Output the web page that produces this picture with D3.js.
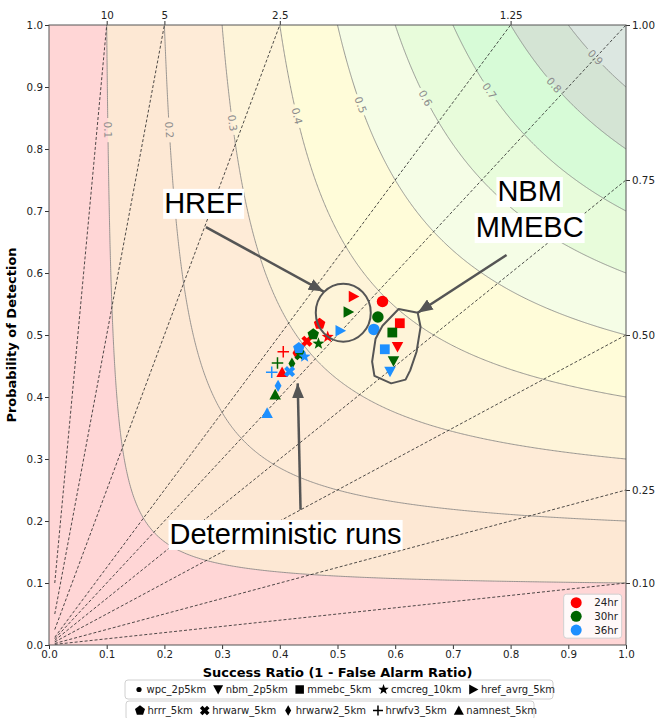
<!DOCTYPE html>
<html>
<head>
<meta charset="utf-8">
<script src="https://cdn.jsdelivr.net/npm/d3@7"></script>
<style>
body { margin: 0; background: #fff; }
svg text { font-family: "DejaVu Sans", sans-serif; }
</style>
</head>
<body>
<svg id="chart" width="656" height="718"></svg>
<script>
// Data
const models = ['wpc_2p5km', 'nbm_2p5km', 'mmebc_5km', 'cmcreg_10km', 'href_avrg_5km',
                'hrrr_5km', 'hrwarw_5km', 'hrwarw2_5km', 'hrwfv3_5km', 'namnest_5km'];
const modelMarkers = ['circle', 'triDown', 'square', 'star', 'triRight',
                      'pentagon', 'xFilled', 'thinDiamond', 'plus', 'triUp'];
const hours = ['24hr', '30hr', '36hr'];

// success ratio / POD per model (same order as models)
const sr24  = [0.578, 0.604, 0.608, 0.483, 0.528, 0.469, 0.447, 0.428, 0.406, 0.404];
const pod24 = [0.554, 0.481, 0.519, 0.497, 0.562, 0.518, 0.490, 0.471, 0.473, 0.440];
const sr30  = [0.570, 0.597, 0.595, 0.467, 0.519, 0.458, 0.435, 0.421, 0.396, 0.392];
const pod30 = [0.529, 0.458, 0.504, 0.486, 0.537, 0.501, 0.468, 0.454, 0.455, 0.404];
const sr36  = [0.563, 0.591, 0.582, 0.443, 0.505, 0.433, 0.417, 0.397, 0.386, 0.378];
const pod36 = [0.509, 0.441, 0.477, 0.465, 0.507, 0.479, 0.441, 0.418, 0.440, 0.374];

const csiLevels = [0.1, 0.2, 0.3, 0.4, 0.5, 0.6, 0.7, 0.8, 0.9];
const csiLabelPod = [0.831, 0.831, 0.842, 0.853, 0.871, 0.882, 0.894, 0.903, 0.948];
const biasLevels = [10, 5, 2.5, 1.25, 1, 0.75, 0.5, 0.25, 0.1];
const biasTopTicks = [10, 5, 2.5, 1.25];
const biasRightTicks = [1.00, 0.75, 0.50, 0.25, 0.10];
const axisTicks = [0, 0.1, 0.2, 0.3, 0.4, 0.5, 0.6, 0.7, 0.8, 0.9, 1.0];

const margin = { top: 25, right: 30, bottom: 73, left: 49 };
const width = 656 - margin.left - margin.right;
const height = 718 - margin.top - margin.bottom;

const svg = d3.select("#chart");
const g = svg.append("g").attr("transform", `translate(${margin.left},${margin.top})`);

const x = d3.scaleLinear().domain([0, 1]).range([0, width]);
const y = d3.scaleLinear().domain([0, 1]).range([height, 0]);

g.append("clipPath").attr("id", "plot-clip")
    .append("rect").attr("width", width).attr("height", height);
const plot = g.append("g").attr("clip-path", "url(#plot-clip)");

// CSI helpers
const podFromSr = (c, sr) => 1 / (1 / c + 1 - 1 / sr);
const srFromPod = (c, pod) => 1 / (1 / c + 1 - 1 / pod);
function csiCurve(c) {
    const pts = [];
    const n = 300;
    for (let i = 0; i <= n; i++) {
        const sr = c + (1 - c) * i / n;
        pts.push([sr, Math.min(1, podFromSr(c, sr))]);
        const pod = c + (1 - c) * i / n;
        pts.push([Math.min(1, srFromPod(c, pod)), pod]);
    }
    return pts.sort((a, b) => a[0] - b[0]);
}

// filled CSI bands
const bandColors = ['#ffd6d6', '#fde8d4', '#feebd7', '#fef4d9', '#fffcd9',
                    '#f5fde6', '#e8fcdb', '#d7fbd7', '#d4e4d4', '#dce7e1'];
plot.append("rect").attr("width", width).attr("height", height).attr("fill", bandColors[0]);

const line = d3.line().x(d => x(d[0])).y(d => y(d[1]));
csiLevels.forEach((c, i) => {
    const pts = csiCurve(c).concat([[1, 1]]);
    plot.append("path")
        .attr("d", line(pts) + "Z")
        .attr("fill", bandColors[i + 1]);
});

// CSI contour lines with inline labels
csiLevels.forEach((c, i) => {
    const lp = csiLabelPod[i];
    const ls = srFromPod(c, lp);
    const cx = x(ls), cy = y(lp);
    const gap = 11;
    const segs = [];
    let cur = [];
    csiCurve(c).forEach(p => {
        const px = x(p[0]), py = y(p[1]);
        if (Math.hypot(px - cx, py - cy) < gap) {
            if (cur.length) segs.push(cur);
            cur = [];
        } else cur.push(p);
    });
    if (cur.length) segs.push(cur);
    segs.forEach(s => {
        plot.append("path").attr("d", line(s))
            .attr("fill", "none").attr("stroke", "#7f7f7f").attr("stroke-width", 0.8);
    });
    const e = 0.004;
    const a = [x(srFromPod(c, lp + e)), y(lp + e)];
    const b = [x(srFromPod(c, lp - e)), y(lp - e)];
    const ang = Math.atan2(b[1] - a[1], b[0] - a[0]) * 180 / Math.PI;
    plot.append("text")
        .attr("transform", `translate(${cx},${cy}) rotate(${ang})`)
        .attr("text-anchor", "middle").attr("dy", "0.35em")
        .attr("font-size", 10.5).attr("fill", "#8c8c8c")
        .text(d3.format(".1f")(c));
});

// bias lines
biasLevels.forEach(b => {
    const start = [0.01, 0.01 * b];
    const end = b >= 1 ? [1 / b, 1] : [1, b];
    plot.append("path").attr("d", line([start, end]))
        .attr("fill", "none").attr("stroke", "#222")
        .attr("stroke-width", 0.8).attr("stroke-dasharray", "3,2");
});

// axes
function styleAxis(sel) {
    sel.select(".domain").remove();
    sel.selectAll(".tick line").attr("stroke", "#333");
    sel.selectAll(".tick text").attr("font-size", 10.3).attr("fill", "#222")
        .attr("font-family", '"DejaVu Sans", sans-serif');
}
g.append("g").attr("transform", `translate(0,${height})`)
    .call(d3.axisBottom(x).tickValues(axisTicks).tickFormat(d3.format(".1f")).tickSize(4).tickPadding(2))
    .call(styleAxis);
g.append("g")
    .call(d3.axisLeft(y).tickValues(axisTicks).tickFormat(d3.format(".1f")).tickSize(4).tickPadding(2))
    .call(styleAxis);
g.append("g")
    .call(d3.axisTop(x).tickValues(biasTopTicks.map(b => 1 / b)).tickFormat((d, i) => biasTopTicks[i]).tickSize(4).tickPadding(2))
    .call(styleAxis);
g.append("g").attr("transform", `translate(${width},0)`)
    .call(d3.axisRight(y).tickValues(biasRightTicks).tickFormat(d3.format(".2f")).tickSize(4).tickPadding(2))
    .call(styleAxis);

g.append("rect").attr("width", width).attr("height", height)
    .attr("fill", "none").attr("stroke", "#555").attr("stroke-width", 1);

g.append("text")
    .attr("x", width / 2).attr("y", height + 32)
    .attr("text-anchor", "middle").attr("font-size", 13).attr("font-weight", "bold")
    .text("Success Ratio (1 - False Alarm Ratio)");
g.append("text")
    .attr("transform", `translate(${-33},${height / 2}) rotate(-90)`)
    .attr("text-anchor", "middle").attr("font-size", 13).attr("font-weight", "bold")
    .text("Probability of Detection");

// marker shapes
const poly = pts => "M" + pts.map(p => p.map(v => v.toFixed(2)).join(",")).join("L") + "Z";
function markerPath(type, s) {
    const h = s / 2;
    switch (type) {
        case 'circle': return d3.symbol(d3.symbolCircle, Math.PI * h * h)();
        case 'dot': return d3.symbol(d3.symbolCircle, Math.PI * 2.6 * 2.6)();
        case 'square': { const q = h * 0.85; return poly([[-q, -q], [q, -q], [q, q], [-q, q]]); }
        case 'triUp': return poly([[0, -h], [h, h * 0.85], [-h, h * 0.85]]);
        case 'triDown': return poly([[0, h], [h, -h * 0.85], [-h, -h * 0.85]]);
        case 'triRight': return poly([[h, 0], [-h * 0.85, -h], [-h * 0.85, h]]);
        case 'pentagon': return poly(d3.range(5).map(k => {
            const a = -Math.PI / 2 + k * 2 * Math.PI / 5;
            return [h * 1.05 * Math.cos(a), h * 1.05 * Math.sin(a)];
        }));
        case 'star': return poly(d3.range(10).map(k => {
            const a = -Math.PI / 2 + k * Math.PI / 5;
            const r = k % 2 ? h * 0.45 : h * 1.1;
            return [r * Math.cos(a), r * Math.sin(a)];
        }));
        case 'xFilled': {
            const t = h * 0.36, a = h;
            const base = [[-t, -a], [t, -a], [t, -t], [a, -t], [a, t], [t, t], [t, a], [-t, a], [-t, t], [-a, t], [-a, -t], [-t, -t]];
            const c = Math.SQRT1_2;
            return poly(base.map(p => [(p[0] - p[1]) * c, (p[0] + p[1]) * c]));
        }
        case 'thinDiamond': return poly([[0, -h * 1.05], [h * 0.6, 0], [0, h * 1.05], [-h * 0.6, 0]]);
        case 'plus': return `M${-h},0H${h}M0,${-h}V${h}`;
    }
}
function drawMarker(sel, type, s, color) {
    const p = sel.append("path").attr("d", markerPath(type, s));
    if (type === 'plus') p.attr("fill", "none").attr("stroke", color).attr("stroke-width", 1.5);
    else p.attr("fill", color);
    return p;
}

// data points: hour by hour
const hourColor = d3.scaleOrdinal().domain(hours).range(['#ff0000', '#006400', '#1e90ff']);
const hourData = [[sr24, pod24], [sr30, pod30], [sr36, pod36]];
hours.forEach((h, hi) => {
    const [srs, pods] = hourData[hi];
    models.forEach((m, mi) => {
        const mg = g.append("g").attr("transform", `translate(${x(srs[mi])},${y(pods[mi])})`);
        drawMarker(mg, modelMarkers[mi], 11.5, hourColor(h));
    });
});

// annotations
const ann = g.append("g");
svg.append("defs").append("marker")
    .attr("id", "arrowhead").attr("markerUnits", "userSpaceOnUse")
    .attr("markerWidth", 16).attr("markerHeight", 12)
    .attr("refX", 15).attr("refY", 6).attr("orient", "auto")
    .append("path").attr("d", "M0,0L15,6L0,12Z").attr("fill", "#555");

const arrows = [
    { from: [0.272, 0.674], to: [0.476, 0.570] },
    { from: [0.793, 0.629], to: [0.639, 0.536] },
    { from: [0.436, 0.218], to: [0.431, 0.422] }
];
arrows.forEach(a => {
    ann.append("line")
        .attr("x1", x(a.from[0])).attr("y1", y(a.from[1]))
        .attr("x2", x(a.to[0])).attr("y2", y(a.to[1]))
        .attr("stroke", "#555").attr("stroke-width", 2.5)
        .attr("marker-end", "url(#arrowhead)");
});

ann.append("ellipse")
    .attr("cx", x(0.510)).attr("cy", y(0.536)).attr("rx", 27.5).attr("ry", 29)
    .attr("fill", "none").attr("stroke", "#555").attr("stroke-width", 2);

const nbmOutline = [[0.606, 0.542], [0.639, 0.536], [0.644, 0.513], [0.637, 0.473], [0.626, 0.443],
                    [0.618, 0.428], [0.593, 0.422], [0.564, 0.434], [0.560, 0.457], [0.566, 0.494], [0.578, 0.515]];
ann.append("path").attr("d", line(nbmOutline) + "Z")
    .attr("fill", "none").attr("stroke", "#555").attr("stroke-width", 2).attr("stroke-linejoin", "round");

const labels = [
    { text: "HREF", at: [0.268, 0.697] },
    { text: "NBM", at: [0.833, 0.716] },
    { text: "MMEBC", at: [0.833, 0.658] },
    { text: "Deterministic runs", at: [0.410, 0.163] }
];
labels.forEach(l => {
    const t = ann.append("text")
        .attr("x", x(l.at[0])).attr("y", y(l.at[1]))
        .attr("text-anchor", "middle")
        .style("font-family", '"Liberation Sans", Arial, sans-serif')
        .attr("font-size", 29).attr("fill", "#000")
        .text(l.text);
    const bb = t.node().getBBox();
    ann.insert("rect", () => t.node())
        .attr("x", bb.x - 1).attr("y", bb.y + 2).attr("width", bb.width + 2).attr("height", bb.height - 2)
        .attr("fill", "#fff");
});

// hour legend (inside, lower right)
const hl = g.append("g").attr("transform", `translate(${x(0.892)},${y(0.082)})`);
hl.append("rect").attr("width", 58).attr("height", 44).attr("rx", 3)
    .attr("fill", "#fff").attr("fill-opacity", 0.85).attr("stroke", "#d0d0d0");
hours.forEach((h, i) => {
    const row = hl.append("g").attr("transform", `translate(12.5,${8.5 + i * 13.7})`);
    drawMarker(row, 'circle', 11, hourColor(h));
    row.append("text").attr("x", 18).attr("dy", "0.35em")
        .attr("font-size", 10.3).attr("fill", "#222").text(h);
});

// model legends below the axis (two rows)
function modelLegend(idx, left, top, w) {
    const lg = svg.append("g").attr("transform", `translate(${left},${top})`);
    lg.append("rect").attr("width", w).attr("height", 19).attr("rx", 3)
        .attr("fill", "#fff").attr("stroke", "#d0d0d0");
    let cx = 14;
    idx.forEach(mi => {
        const mk = lg.append("g").attr("transform", `translate(${cx},9.5)`);
        drawMarker(mk, modelMarkers[mi] === 'circle' ? 'dot' : modelMarkers[mi], 10, "#000");
        const t = lg.append("text").attr("x", cx + 7.5).attr("y", 9.5).attr("dy", "0.35em")
            .attr("font-size", 10).attr("fill", "#222").text(models[mi]);
        cx += 7.5 + t.node().getComputedTextLength() + 12;
    });
}
modelLegend([0, 1, 2, 3, 4], 125, 680, 428);
modelLegend([5, 6, 7, 8, 9], 126, 701, 408);
</script>
</body>
</html>
